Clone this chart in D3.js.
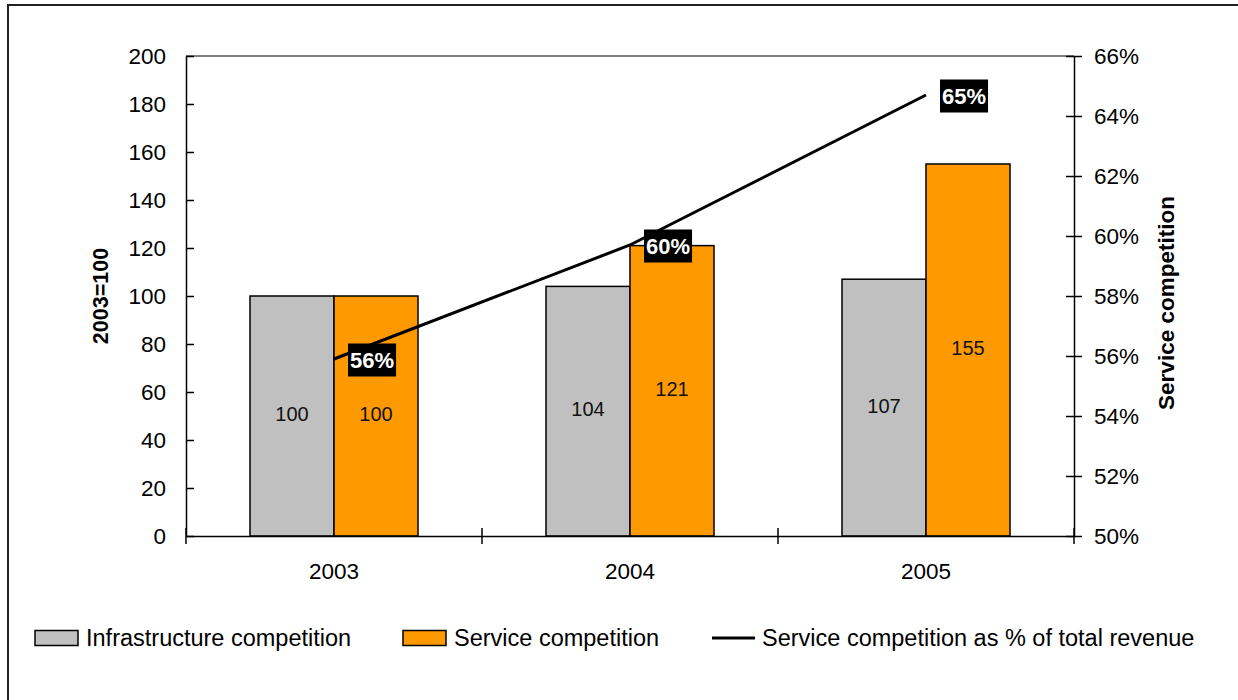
<!DOCTYPE html>
<meta charset="utf-8">
<script src="https://d3js.org/d3.v7.min.js"></script>
<style>
  body { margin: 0; background: #fff; }
  svg { font-family: "Liberation Sans", Arial, sans-serif; }
</style>
<svg id="chart" width="1238" height="700"></svg>
<script>
// data
const years = ["2003", "2004", "2005"];
const infra = [100, 104, 107];
const service = [100, 121, 155];
const sharePct = [55.9, 59.7, 64.7];
const shareLabels = ["56%", "60%", "65%"];
const leftTicks = [0, 20, 40, 60, 80, 100, 120, 140, 160, 180, 200];
const rightTicks = [50, 52, 54, 56, 58, 60, 62, 64, 66];
const seriesNames = ["Infrastructure competition", "Service competition"];
const lineName = "Service competition as % of total revenue";
const colors = ["#c0c0c0", "#ff9900"];

const svg = d3.select("#chart");
const plotL = 186, plotR = 1074, plotT = 56, plotB = 536;
const fontFam = "Liberation Sans, Arial, sans-serif";

// outer frame
svg.append("path").attr("d", "M8,700V5H1238")
  .attr("fill", "none").attr("stroke", "#222").attr("stroke-width", 2);

const x = d3.scaleBand().domain(years).range([plotL, plotR]);
const xs = d3.scaleBand().domain([0, 1]).range([0, x.bandwidth()]).paddingOuter(0.762);
const y = d3.scaleLinear().domain([0, 200]).range([plotB, plotT]);
const y2 = d3.scaleLinear().domain([50, 66]).range([plotB, plotT]);

// plot area top border
svg.append("line").attr("x1", plotL).attr("x2", plotR).attr("y1", plotT).attr("y2", plotT)
  .attr("stroke", "#808080").attr("stroke-width", 2);

// bars
const groups = svg.selectAll("g.yr").data(years).join("g")
  .attr("class", "yr").attr("transform", d => `translate(${x(d)},0)`);
groups.each(function (yr, i) {
  const g = d3.select(this);
  [infra[i], service[i]].forEach((v, s) => {
    g.append("rect")
      .attr("x", xs(s)).attr("width", xs.bandwidth())
      .attr("y", y(v)).attr("height", y(0) - y(v))
      .attr("fill", colors[s]).attr("stroke", "#000").attr("stroke-width", 1.5);
    g.append("text")
      .attr("x", xs(s) + xs.bandwidth() / 2)
      .attr("y", (y(v) + y(0)) / 2 - 2)
      .attr("dy", "0.35em").attr("text-anchor", "middle")
      .attr("font-size", 20).attr("fill", "#111")
      .text(v);
  });
});

// axes
const axL = svg.append("g").attr("transform", `translate(${plotL},0)`)
  .call(d3.axisLeft(y).tickValues(leftTicks).tickSize(8).tickSizeOuter(0).tickPadding(12));
axL.selectAll(".tick line").attr("x2", 8);

const axR = svg.append("g").attr("transform", `translate(${plotR},0)`)
  .call(d3.axisRight(y2).tickValues(rightTicks).tickFormat(d => d + "%").tickSize(8).tickSizeOuter(0).tickPadding(12));
axR.selectAll(".tick line").attr("x1", -8);

const axB = svg.append("g").attr("transform", `translate(0,${plotB})`)
  .call(d3.axisBottom(x).tickSize(0).tickPadding(27));
// category separator ticks
const seps = [...years.map(d => x(d)), plotR];
axB.selectAll("line.sep").data(seps).join("line").attr("class", "sep")
  .attr("x1", d => d).attr("x2", d => d).attr("y1", -8).attr("y2", 8);
[axL, axR, axB].forEach(a => {
  a.selectAll("path.domain, line").attr("stroke", "#000").attr("stroke-width", 1.5);
  a.selectAll("text").attr("font-size", 22.5).attr("fill", "#000").attr("font-family", fontFam);
});

// axis titles
svg.append("text").attr("transform", "translate(108,296) rotate(-90)")
  .attr("text-anchor", "middle").attr("font-size", 21.5).attr("font-weight", "bold").text("2003=100");
svg.append("text").attr("transform", "translate(1174,303) rotate(-90)")
  .attr("text-anchor", "middle").attr("font-size", 22.5).attr("font-weight", "bold").text("Service competition");

// line
const cx = d => x(d) + x.bandwidth() / 2;
const line = d3.line().x((d, i) => cx(years[i])).y(d => y2(d));
svg.append("path").datum(sharePct).attr("d", line)
  .attr("fill", "none").attr("stroke", "#000").attr("stroke-width", 3);

// line labels
sharePct.forEach((v, i) => {
  const g = svg.append("g").attr("transform", `translate(${cx(years[i]) + 14},${y2(v) + 1})`);
  const t = g.append("text").attr("x", 2).attr("dy", "0.35em")
    .attr("font-size", 22).attr("font-weight", "bold").attr("fill", "#fff").text(shareLabels[i]);
  const w = t.node().getComputedTextLength();
  g.insert("rect", "text").attr("x", 0).attr("y", -16.5).attr("width", w + 4).attr("height", 33).attr("fill", "#000");
});

// legend
const legY = 638;
const leg = [
  { x: 35, type: "rect", color: colors[0], label: seriesNames[0] },
  { x: 403, type: "rect", color: colors[1], label: seriesNames[1] },
  { x: 712, type: "line", label: lineName }
];
leg.forEach(d => {
  if (d.type === "rect") {
    svg.append("rect").attr("x", d.x).attr("y", legY - 7.5).attr("width", 43).attr("height", 15)
      .attr("fill", d.color).attr("stroke", "#000").attr("stroke-width", 1.5);
  } else {
    svg.append("line").attr("x1", d.x).attr("x2", d.x + 43).attr("y1", legY).attr("y2", legY)
      .attr("stroke", "#000").attr("stroke-width", 3);
  }
  svg.append("text").attr("x", d.x + (d.type === "rect" ? 51 : 50)).attr("y", legY).attr("dy", "0.35em")
    .attr("font-size", 23.5).attr("fill", "#000").text(d.label);
});
</script>
